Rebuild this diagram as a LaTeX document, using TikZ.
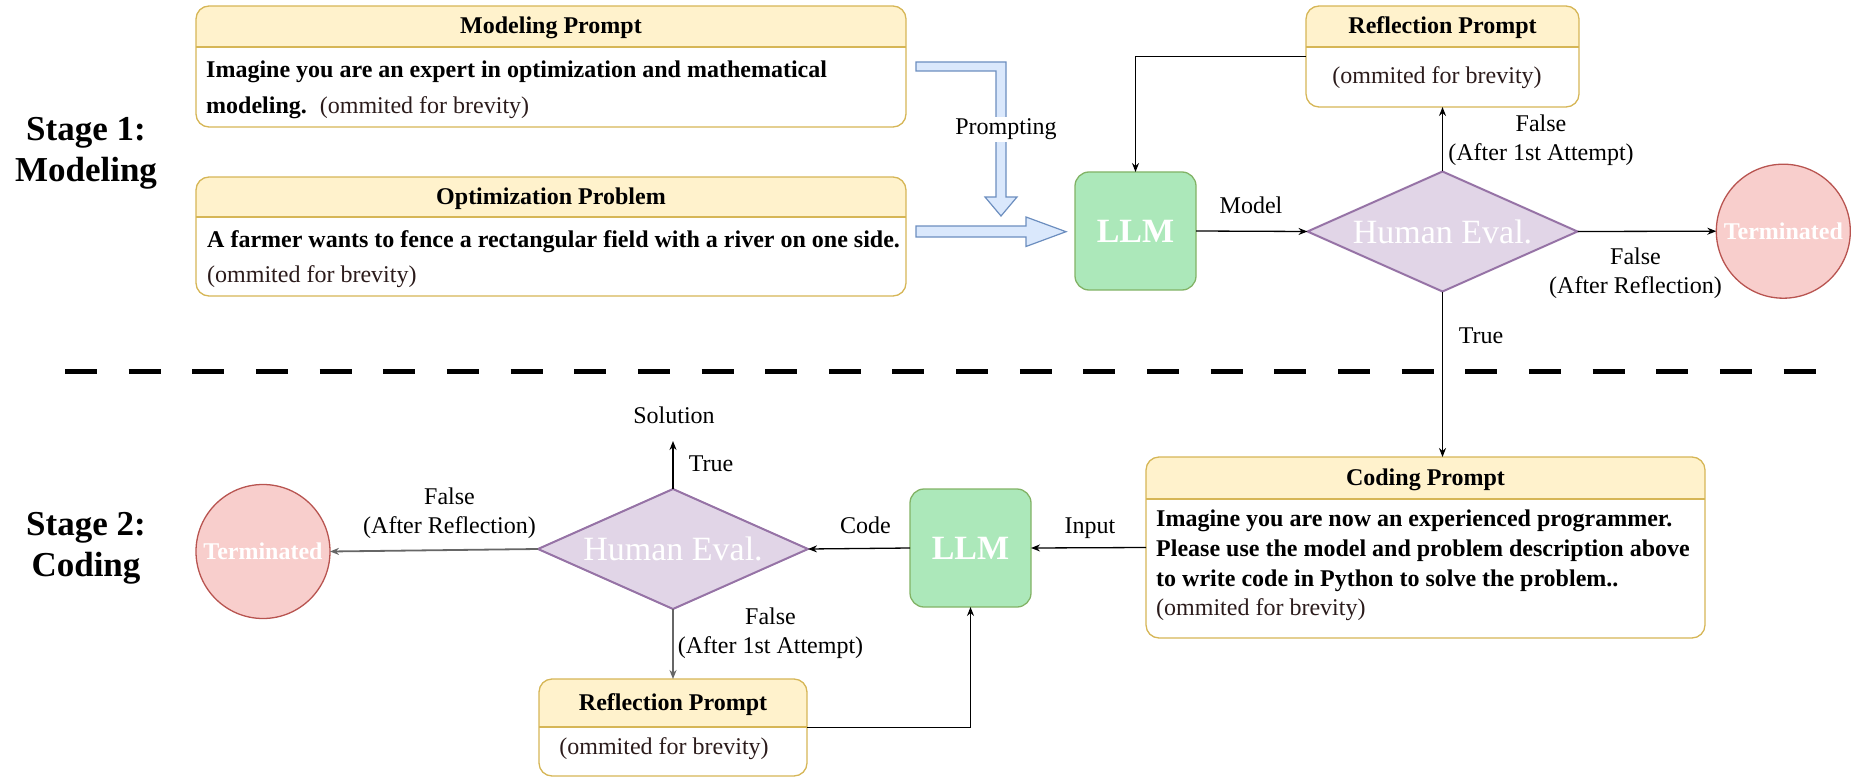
\documentclass[tikz,border=0pt]{standalone}
\usepackage{fontspec}
\setmainfont{Liberation Serif}
\usetikzlibrary{arrows.meta,shapes.geometric,calc}
\definecolor{hdrfill}{HTML}{FFF2CC}
\definecolor{hdrline}{HTML}{D6B656}
\definecolor{llmfill}{HTML}{ACE8BA}
\definecolor{llmline}{HTML}{82B366}
\definecolor{evfill}{HTML}{E1D5E7}
\definecolor{evline}{HTML}{9673A6}
\definecolor{tmfill}{HTML}{F8CECC}
\definecolor{tmline}{HTML}{B85450}
\definecolor{blfill}{HTML}{DAE8FC}
\definecolor{blline}{HTML}{6C8EBF}
\definecolor{omit}{HTML}{2B1B1B}
\definecolor{grayline}{HTML}{666666}

\newcommand{\pbox}[6]{%
  \node[draw=none, fill=white, rounded corners=13, inner sep=0, outer sep=0,
        minimum width={#4-#2}, minimum height={#6-#3}] (#1) at ({(#2+#4)/2},{(#3+#6)/2}) {};
  \begin{scope}
    \clip[rounded corners=13] (#1.north west) rectangle (#1.south east);
    \fill[hdrfill] (#1.north west) rectangle (#4,#5);
  \end{scope}
  \draw[hdrline, line width=1.3, rounded corners=13] (#1.north west) rectangle (#1.south east);
  \draw[hdrline, line width=1.3] (#2,#5) -- (#4,#5);
}

\begin{document}
\begin{tikzpicture}[x=1pt,y=-1pt,
  lbl/.style={font=\fontsize{24}{29}\selectfont, inner sep=0pt, align=center},
  hdr/.style={font=\fontsize{24}{29}\selectfont\bfseries, inner sep=0pt, anchor=base},
  body/.style={inner sep=0pt, anchor=west, align=left},
  stage/.style={font=\fontsize{35}{41}\selectfont\bfseries, inner sep=0pt, align=center},
  llmbox/.style={draw=llmline, fill=llmfill, line width=1.3, rounded corners=14,
     minimum width=121, minimum height=118, inner sep=0, outer sep=0,
     text=white, font=\fontsize{34}{40}\selectfont\bfseries},
  evalbox/.style={diamond, draw=evline, fill=evfill, line width=2, minimum width=270,
     minimum height=120, aspect=2.25, inner sep=0, outer sep=0,
     text=white, font=\fontsize{34}{40}\selectfont},
  termbox/.style={circle, draw=tmline, fill=tmfill, line width=1.3, minimum size=134,
     inner sep=0, outer sep=0, text=white, font=\fontsize{24}{29}\selectfont\bfseries},
  arr/.style={-{Stealth[length=9,width=7]}, line width=1.3},
  garr/.style={-{Stealth[length=9,width=7]}, line width=1.8, draw=grayline},
  blarrow/.style={draw=blline, fill=blfill, line width=1.2}
]
\useasboundingbox (0,0) rectangle (1851,778);

% ---------- Stage labels ----------
\node[stage] (st1) at (86,153.6) {Stage 1:\\Modeling};
\node[stage] (st2) at (86,548.4) {Stage 2:\\Coding};

% ---------- Stage 1 boxes ----------
\pbox{mp}{196}{6}{906}{47}{127}
\node[hdr] (mph) at (551,34) {Modeling Prompt};
\node[body, font=\fontsize{24}{36}\selectfont] (mpb) at (206,89.7)
  {\textbf{Imagine you are an expert in optimization and mathematical}\\
   \textbf{modeling.}\hspace{13pt}{\color{omit}(ommited for brevity)}};

\pbox{op}{196}{177}{906}{217}{296}
\node[hdr] (oph) at (551,204.5) {Optimization Problem};
\node[body, font=\fontsize{24}{35}\selectfont] (opb) at (207,258.7)
  {\textbf{A farmer wants to fence a rectangular field with a river on one side.}\\
   {\color{omit}(ommited for brevity)}};

\pbox{ref1}{1306}{6}{1579}{47}{107}
\node[hdr] (ref1h) at (1442.5,34) {Reflection Prompt};
\node[lbl, anchor=base, text=omit] (ref1b) at (1437,83.3) {(ommited for brevity)};

% blue prompting arrows
\draw[blarrow] (916,62) -- (1006,62) -- (1006,197) -- (1017,197) -- (1001,216)
   -- (985,197) -- (996,197) -- (996,71) -- (916,71) -- cycle;
\draw[blarrow] (916,226) -- (1026,226) -- (1026,217) -- (1066,231.7) -- (1026,246.5)
   -- (1026,237) -- (916,237) -- cycle;
\node[lbl, anchor=base, fill=white, inner sep=2pt] (prm) at (1006,135) {Prompting};

\node[llmbox] (llm1) at (1135.5,231) {LLM};
\node[evalbox] (ev1) at (1442.5,231.5) {Human Eval.};
\node[termbox] (tm1) at (1783.3,231.2) {Terminated};

\draw[arr] (ref1.west) -| (llm1.north);
\draw[arr] (llm1.east) -- (ev1.west);
\draw[arr] (ev1.north) -- (ref1.south);
\draw[arr] (ev1.east) -- (tm1.west);

\node[lbl, anchor=base] (lmodel) at (1251,213) {Model};
\node[lbl] (lf1) at (1541,139.9) {False\\(After 1st Attempt)};
\node[lbl] (lf2) at (1635.5,273.4) {False\\(After Reflection)};
\node[lbl, anchor=base] (ltrue1) at (1481,343) {True};

% ---------- separator ----------
\draw[line width=5, dash pattern=on 32 off 31.65] (65,371) -- (1816,371);

% ---------- Stage 2 ----------
\pbox{cp}{1146}{457}{1705}{499}{638}
\node[hdr] (cph) at (1425.5,485.5) {Coding Prompt};
\node[body, font=\fontsize{24}{29.7}\selectfont] (cpb) at (1156,565.7)
  {\textbf{Imagine you are now an experienced programmer.}\\
   \textbf{Please use the model and problem description above}\\
   \textbf{to write code in Python to solve the problem..}\\
   {\color{omit}(ommited for brevity)}};

\pbox{ref2}{539}{679}{807}{727}{776}
\node[hdr] (ref2h) at (673,710.5) {Reflection Prompt};
\node[lbl, anchor=base, text=omit] (ref2b) at (664,754) {(ommited for brevity)};

\node[llmbox] (llm2) at (970.5,548) {LLM};
\node[evalbox] (ev2) at (673,549) {Human Eval.};
\node[termbox] (tm2) at (263,551.5) {Terminated};
\coordinate (sol) at (673,441);

\draw[arr] (ev1.south) -- (ev1.south |- cp.north);
\draw[arr] (cp.west) -- (llm2.east);
\draw[arr] (llm2.west) -- (ev2.east);
\draw[garr] (ev2.west) -- (tm2.east);
\draw[arr] (ev2.north) -- (sol);
\draw[garr] (ev2.south) -- (ref2.north);
\draw[arr] (ref2.east) -| (llm2.south);

\node[lbl, anchor=base] (lsol) at (674,423) {Solution};
\node[lbl, anchor=base] (ltrue2) at (711,471) {True};
\node[lbl] (lf3) at (449.5,512.9) {False\\(After Reflection)};
\node[lbl, anchor=base] (lcode) at (865.5,533) {Code};
\node[lbl, anchor=base] (linput) at (1090,533) {Input};
\node[lbl] (lf4) at (770.5,633.4) {False\\(After 1st Attempt)};
\end{tikzpicture}
\end{document}
